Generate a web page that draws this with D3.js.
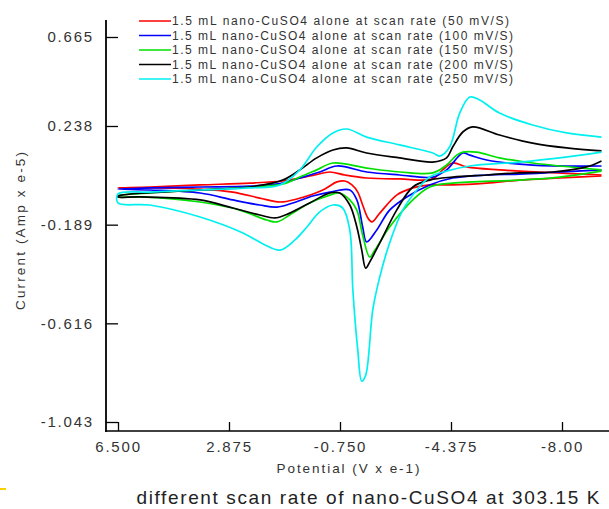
<!DOCTYPE html>
<html>
<head>
<meta charset="utf-8">
<script src="https://cdn.jsdelivr.net/npm/d3@7"></script>
<style>
  body { margin: 0; background: #fff; }
  svg { display: block; }
  .tick text { font-family: "Liberation Sans", Arial, sans-serif; font-size: 15px; fill: #333; letter-spacing: 1.8px; }
  .lbl { font-family: "Liberation Sans", Arial, sans-serif; fill: #333; }
</style>
</head>
<body>
<div id="chart"></div>
<script>
// potential (V x e-1), current (Amp x e-5)
const potentialTicks = [6.5, 2.875, -0.75, -4.375, -8.0];
const potentialLabels = ["6.500", "2.875", "-0.750", "-4.375", "-8.00"];
const currentTicks = [0.665, 0.238, -0.189, -0.616, -1.043];
const currentLabels = ["0.665", "0.238", "-0.189", "-0.616", "-1.043"];

const seriesNames = [
  "1.5 mL nano-CuSO4 alone at scan rate (50 mV/S)",
  "1.5 mL nano-CuSO4 alone at scan rate (100 mV/S)",
  "1.5 mL nano-CuSO4 alone at scan rate (150 mV/S)",
  "1.5 mL nano-CuSO4 alone at scan rate (200 mV/S)",
  "1.5 mL nano-CuSO4 alone at scan rate (250 mV/S)"
];
const seriesColors = ["#ff0000", "#0000ff", "#00e000", "#000000", "#00f0f0"];

// [potential, current]
const scan50 = [
  [-9.29,0.026],[-5.96,0.048],[-4.89,0.061],[-4.43,0.078],[-4.10,0.048],[-3.78,0.009],
  [-2.70,0.009],[-1.62,0.013],[-0.91,0.026],[-0.42,0.039],[0.07,0.026],[0.56,0.013],
  [1.12,0.000],[2.19,-0.009],[3.82,-0.017],[5.46,-0.026],[6.50,-0.030],
  [5.46,-0.030],[3.82,-0.035],[2.75,-0.048],[1.87,-0.074],[1.21,-0.091],[0.66,-0.078],
  [-0.19,-0.039],[-0.65,-0.004],[-0.91,0.000],[-1.14,-0.017],[-1.33,-0.048],[-1.49,-0.104],
  [-1.66,-0.160],[-1.79,-0.177],[-2.05,-0.139],[-2.60,-0.061],[-3.13,-0.030],[-3.68,-0.017],
  [-4.43,-0.017],[-5.54,-0.009],[-6.62,0.004],[-7.92,0.013],[-9.29,0.022]
];
const scan100 = [
  [-9.29,0.065],[-7.04,0.069],[-5.54,0.091],[-4.99,0.112],[-4.76,0.121],[-4.23,0.048],
  [-3.78,0.017],[-2.70,0.026],[-1.62,0.039],[-0.65,0.065],[-0.09,0.039],[0.56,0.013],
  [1.12,-0.009],[2.19,-0.022],[3.82,-0.026],[5.46,-0.030],[6.50,-0.035],
  [5.46,-0.039],[3.82,-0.052],[2.75,-0.082],[1.87,-0.104],[1.31,-0.113],[0.79,-0.095],
  [0.14,-0.065],[-0.42,-0.048],[-1.07,-0.039],[-1.30,-0.082],[-1.49,-0.199],[-1.62,-0.264],
  [-1.95,-0.212],[-2.37,-0.126],[-2.93,-0.069],[-3.68,-0.017],[-4.43,0.013],[-5.54,0.026],
  [-6.62,0.030],[-7.92,0.039],[-9.29,0.048]
];
const scan150 = [
  [-9.29,0.048],[-7.04,0.078],[-5.96,0.100],[-5.21,0.125],[-4.76,0.125],[-4.56,0.112],
  [-4.23,0.069],[-3.78,0.035],[-2.70,0.039],[-1.62,0.056],[-0.52,0.078],[0.01,0.048],
  [0.56,0.017],[1.12,-0.013],[2.19,-0.026],[3.82,-0.039],[5.46,-0.052],[6.50,-0.065],
  [6.50,-0.069],[5.78,-0.069],[3.82,-0.091],[2.52,-0.126],[1.64,-0.169],[1.31,-0.177],
  [0.89,-0.147],[0.24,-0.095],[-0.42,-0.061],[-0.74,-0.052],[-1.07,-0.082],[-1.30,-0.126],
  [-1.49,-0.234],[-1.72,-0.329],[-1.89,-0.299],[-2.37,-0.199],[-3.13,-0.082],[-3.68,-0.026],
  [-4.43,-0.009],[-6.62,0.004],[-7.92,0.017],[-9.29,0.043]
];
const scan200 = [
  [-9.29,0.130],[-8.15,0.143],[-7.04,0.164],[-5.96,0.199],[-5.08,0.234],[-4.76,0.212],
  [-4.43,0.147],[-4.23,0.100],[-3.78,0.082],[-2.70,0.100],[-1.62,0.121],[-0.97,0.143],
  [-0.52,0.134],[0.01,0.100],[0.56,0.048],[1.12,0.004],[2.19,-0.026],[3.82,-0.039],
  [6.50,-0.065],
  [6.50,-0.069],[5.78,-0.069],[3.82,-0.082],[2.75,-0.117],[1.87,-0.147],[1.38,-0.160],
  [0.89,-0.139],[0.24,-0.095],[-0.42,-0.052],[-0.74,-0.052],[-1.07,-0.104],[-1.30,-0.199],
  [-1.46,-0.299],[-1.59,-0.377],[-1.72,-0.351],[-2.05,-0.268],[-2.60,-0.126],[-3.13,-0.026],
  [-3.68,0.004],[-4.43,0.017],[-5.54,0.026],[-6.62,0.035],[-7.69,0.039],[-8.80,0.061],
  [-9.29,0.087]
];
const scan250 = [
  [-9.29,0.190],[-8.15,0.208],[-7.04,0.243],[-5.96,0.300],[-5.31,0.363],[-4.99,0.377],
  [-4.66,0.300],[-4.33,0.147],[-4.01,0.108],[-3.78,0.121],[-2.70,0.156],[-1.62,0.190],
  [-0.97,0.225],[-0.52,0.208],[0.01,0.147],[0.56,0.048],[1.21,-0.017],[2.19,-0.030],
  [3.82,-0.039],[5.46,-0.048],[6.50,-0.056],
  [6.50,-0.095],[5.46,-0.104],[3.82,-0.156],[2.42,-0.225],[1.70,-0.277],[1.21,-0.299],
  [0.72,-0.255],[0.33,-0.199],[-0.09,-0.134],[-0.52,-0.104],[-0.84,-0.117],[-1.07,-0.212],
  [-1.17,-0.472],[-1.33,-0.731],[-1.46,-0.866],[-1.59,-0.840],[-1.82,-0.558],[-2.05,-0.415],
  [-2.37,-0.268],[-2.80,-0.126],[-3.26,-0.039],[-3.68,0.017],[-4.23,0.043],[-4.99,0.065],
  [-6.62,0.082],[-7.92,0.100],[-9.29,0.125]
];
const allScans = [scan50, scan100, scan150, scan200, scan250];

var width = 609, height = 509;

var svg = d3.select("#chart").append("svg")
  .attr("width", width)
  .attr("height", height);

// the source plot spaces its top tick unevenly, so the y scale is piecewise
var x = d3.scaleLinear().domain([6.5, -8.0]).range([118, 562]);
var y = d3.scaleLinear().domain([-1.043, 0.238, 0.665]).range([422, 126, 37]);

// axes
var yAxis = svg.append("g")
  .attr("transform", "translate(106,0)")
  .call(d3.axisLeft(y)
    .tickValues(currentTicks)
    .tickFormat(function(d, i) { return currentLabels[i]; })
    .tickSizeInner(-12).tickSizeOuter(0).tickPadding(12));
yAxis.select(".domain").remove();
yAxis.selectAll(".tick line").attr("stroke", "#000").attr("stroke-width", 1.3);

var xAxis = svg.append("g")
  .attr("transform", "translate(0,431)")
  .call(d3.axisBottom(x)
    .tickValues(potentialTicks)
    .tickFormat(function(d, i) { return potentialLabels[i]; })
    .tickSizeInner(-9).tickSizeOuter(0).tickPadding(10));
xAxis.select(".domain").remove();
xAxis.selectAll(".tick line").attr("stroke", "#000").attr("stroke-width", 1.3);

svg.append("line").attr("x1", 106).attr("x2", 106).attr("y1", 20).attr("y2", 432)
  .attr("stroke", "#000").attr("stroke-width", 1.8);
svg.append("line").attr("x1", 105).attr("x2", 609).attr("y1", 431).attr("y2", 431)
  .attr("stroke", "#000").attr("stroke-width", 1.5);

// curves
var line = d3.line()
  .x(function(d) { return x(d[0]); })
  .y(function(d) { return y(d[1]); })
  .curve(d3.curveCatmullRom.alpha(0.5));

svg.selectAll(".scan")
  .data(allScans)
  .enter().append("path")
  .attr("class", "scan")
  .attr("d", line)
  .attr("fill", "none")
  .attr("stroke", function(d, i) { return seriesColors[i]; })
  .attr("stroke-width", 1.7)
  .attr("stroke-linejoin", "round");

// legend
var legend = svg.selectAll(".legend")
  .data(seriesNames)
  .enter().append("g")
  .attr("class", "legend")
  .attr("transform", function(d, i) { return "translate(139," + (21 + i * 14.5) + ")"; });

legend.append("line")
  .attr("x1", 0).attr("x2", 32)
  .attr("stroke", function(d, i) { return seriesColors[i]; })
  .attr("stroke-width", 1.5);

legend.append("text")
  .attr("class", "lbl")
  .attr("x", 33)
  .attr("dy", "0.35em")
  .style("font-size", "12px")
  .attr("textLength", function(d, i) { return i == 0 ? 337 : 341; })
  .attr("lengthAdjust", "spacing")
  .text(function(d) { return d; });

// titles
svg.append("text")
  .attr("class", "lbl")
  .attr("transform", "translate(25,231) rotate(-90)")
  .attr("text-anchor", "middle")
  .style("font-size", "13.5px")
  .attr("textLength", 158)
  .attr("lengthAdjust", "spacing")
  .text("Current (Amp x e-5)");

svg.append("text")
  .attr("class", "lbl")
  .attr("x", 348).attr("y", 473)
  .attr("text-anchor", "middle")
  .style("font-size", "13.5px")
  .attr("textLength", 143)
  .attr("lengthAdjust", "spacing")
  .text("Potential (V x e-1)");

svg.append("text")
  .attr("class", "lbl")
  .attr("x", 368).attr("y", 504)
  .attr("text-anchor", "middle")
  .style("font-size", "19px")
  .style("fill", "#222")
  .attr("textLength", 463)
  .attr("lengthAdjust", "spacing")
  .text("different scan rate of nano-CuSO4 at 303.15 K");

svg.append("line").attr("x1", 0).attr("x2", 6).attr("y1", 489).attr("y2", 489)
  .attr("stroke", "#ffd000").attr("stroke-width", 2);
</script>
</body>
</html>
